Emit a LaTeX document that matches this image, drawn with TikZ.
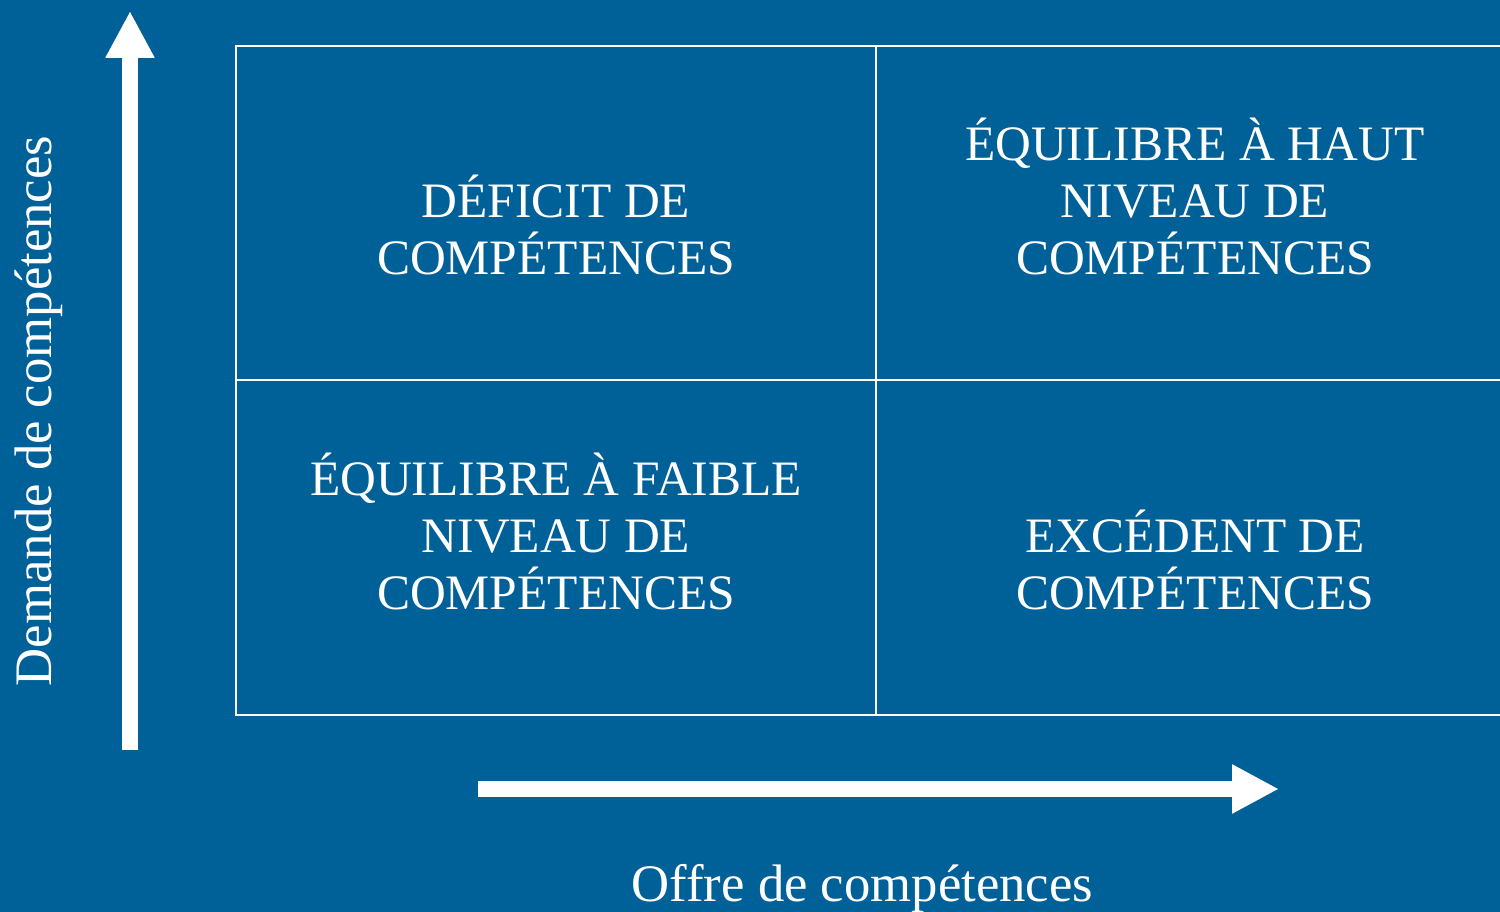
\documentclass[tikz,border=0pt]{standalone}
\usepackage{fontspec}
\setmainfont{Liberation Serif}
\usetikzlibrary{arrows.meta}
\definecolor{bgblue}{HTML}{006098}

\begin{document}
\begin{tikzpicture}[
	cell/.style={text=white, align=center, font=\fontsize{14.1}{16.2}\selectfont},
	axislabel/.style={text=white, anchor=base, font=\fontsize{15}{17}\selectfont},
	axisarrow/.style={white, line width=0.16cm, -{Triangle[width=0.46cm,length=0.47cm]}},
	gridline/.style={white, line width=0.6pt}
	]
	\clip (0,0) rectangle (15,9.12);
	\fill[bgblue] (0,0) rectangle (15,9.12);
	% quadrants
	\draw[gridline] (2.36,1.97) rectangle (15.3,8.66);
	\draw[gridline] (8.76,1.97) -- (8.76,8.66);
	\draw[gridline] (2.36,5.32) -- (15.3,5.32);
	\node[cell] (deficit) at (5.56,6.87) {DÉFICIT DE\\COMPÉTENCES};
	\node[cell] (hautniveau) at (11.95,7.155) {ÉQUILIBRE À HAUT\\NIVEAU DE\\COMPÉTENCES};
	\node[cell] (faibleniveau) at (5.56,3.805) {ÉQUILIBRE À FAIBLE\\NIVEAU DE\\COMPÉTENCES};
	\node[cell] (excedent) at (11.95,3.52) {EXCÉDENT DE\\COMPÉTENCES};
	% axes
	\coordinate (ytail) at (1.30,1.62);
	\coordinate (ytip) at (1.30,9.01);
	\coordinate (xtail) at (4.78,1.23);
	\coordinate (xtip) at (12.79,1.23);
	\draw[axisarrow] (ytail) -- (ytip);
	\draw[axisarrow] (xtail) -- (xtip);
	\node[axislabel, rotate=90] (demande) at (0.52,5.01) {Demande de compétences};
	\node[axislabel] (offre) at (8.625,0.10) {Offre de compétences};
\end{tikzpicture}
\end{document}
